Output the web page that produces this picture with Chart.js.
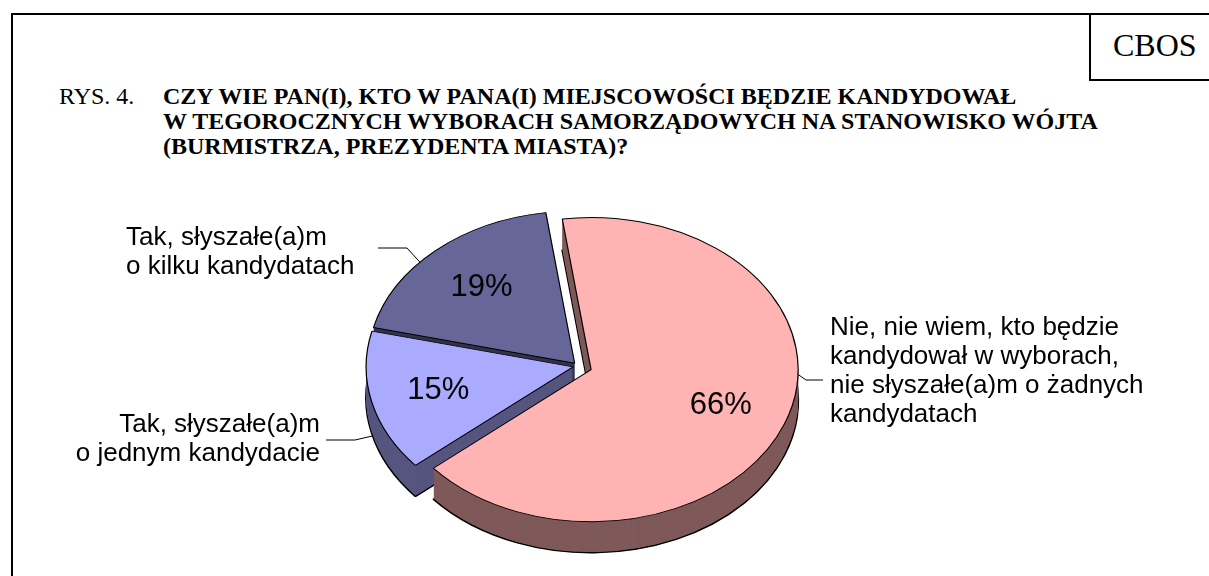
<!DOCTYPE html>
<html lang="pl">
<head>
<meta charset="utf-8">
<title>CBOS - Rys. 4</title>
<script src="https://cdn.jsdelivr.net/npm/chart.js@4.4.1/dist/chart.umd.min.js"></script>
<style>
    html, body { margin: 0; padding: 0; background: #fff; }
    #page { position: relative; width: 1209px; height: 576px; overflow: hidden; }
    #frame { position: absolute; left: 11px; top: 13px; width: 1400px; height: 800px;
             border-left: 2px solid #000; border-top: 2px solid #000; }
    #cbos { position: absolute; left: 1089px; top: 13px; width: 200px; height: 64px;
            border: 2px solid #000; border-right: none; }
    #cbos span { position: absolute; left: 22px; top: 14px; font: 32px/32px "Liberation Serif", "Times New Roman", serif; }
    .t { position: absolute; top: 84px; font-family: "Liberation Serif", "Times New Roman", serif;
         font-size: 24px; line-height: 25px; white-space: nowrap; color: #000; }
    #chart { position: absolute; left: 0; top: 0; }
</style>
</head>
<body>
<div id="page">
    <div id="frame"></div>
    <div id="cbos"><span>CBOS</span></div>
    <div class="t" style="left:59px">RYS. 4.</div>
    <div class="t" style="left:163px;font-weight:bold">CZY WIE PAN(I), KTO W PANA(I) MIEJSCOWOŚCI BĘDZIE KANDYDOWAŁ<br>W TEGOROCZNYCH WYBORACH SAMORZĄDOWYCH NA STANOWISKO WÓJTA<br>(BURMISTRZA, PREZYDENTA MIASTA)?</div>
    <canvas id="chart" width="1209" height="576"></canvas>
</div>
<script>
// dane z rysunku
const categories = [
    'Nie, nie wiem, kto będzie kandydował w wyborach, nie słyszałe(a)m o żadnych kandydatach',
    'Tak, słyszałe(a)m o jednym kandydacie',
    'Tak, słyszałe(a)m o kilku kandydatach'
];
const labelLines = [
    ['Nie, nie wiem, kto będzie', 'kandydował w wyborach,', 'nie słyszałe(a)m o żadnych', 'kandydatach'],
    ['Tak, słyszałe(a)m', 'o jednym kandydacie'],
    ['Tak, słyszałe(a)m', 'o kilku kandydatach']
];
const values = [66, 15, 19];

const topColors = ['#FFB3B3', '#AAAAFF', '#666699'];
const sideColors = ['#7F5959', '#55557F', '#33334C'];

// wygląd "3D"
const TILT = 0.735;
const DEPTH = 31;
const explode = [14, 5, 5];
const labelFont = '26px "Liberation Sans", Arial, sans-serif';
const pctFont = '31px "Liberation Sans", Arial, sans-serif';
// pozycje opisów i linii odniesienia
const outerLabels = [
    { x: 830, y: 335, align: 'left', frac: 0.42, drop: 0, line: [[823, 380], [806, 380]] },
    { x: 320, y: 432, align: 'right', frac: 0.48, drop: DEPTH, line: [[326, 440], [355, 440]] },
    { x: 126, y: 245, align: 'left', frac: 0.41, drop: 0, line: [[378, 248], [407, 248]] }
];

function arcPoint(arc, i, angle, r, cy) {
    const h = (arc.startAngle + arc.endAngle) / 2;
    const ux = Math.cos(h) * explode[i] + Math.cos(angle) * r;
    const uy = Math.sin(h) * explode[i] + Math.sin(angle) * r;
    return { x: arc.x + ux, y: cy + uy * TILT };
}

const pie3d = {
    id: 'pie3d',
    beforeDatasetsDraw(chart) {
        const ctx = chart.ctx;
        const arcs = chart.getDatasetMeta(0).data;
        const cy = arcs[0].y;

        function withArc(arc, i, dy, fn) {
            ctx.save();
            ctx.translate(0, cy + dy);
            ctx.scale(1, TILT);
            ctx.translate(0, -cy);
            const h = (arc.startAngle + arc.endAngle) / 2;
            ctx.translate(Math.cos(h) * explode[i], Math.sin(h) * explode[i]);
            fn();
            ctx.restore();
        }
        function paint(arc, fill, bw) {
            const o = arc.options;
            arc.options = Object.assign({}, o, { backgroundColor: fill, borderWidth: bw });
            arc.draw(ctx);
            arc.options = o;
        }

        // boki
        for (let d = DEPTH; d >= 1; d--) {
            arcs.forEach((a, i) => withArc(a, i, d, () => paint(a, sideColors[i], d === DEPTH ? 2 : 0)));
        }
        // wierzch
        arcs.forEach((a, i) => withArc(a, i, 0, () => a.draw(ctx)));
        return false;
    },
    afterDraw(chart) {
        const ctx = chart.ctx;
        const arcs = chart.getDatasetMeta(0).data;
        const cy = arcs[0].y;
        const data = chart.data.datasets[0].data;

        ctx.save();
        ctx.fillStyle = '#000';
        ctx.font = pctFont;
        ctx.textAlign = 'center';
        ctx.textBaseline = 'middle';
        arcs.forEach((a, i) => {
            const h = (a.startAngle + a.endAngle) / 2;
            const p = arcPoint(a, i, h, a.outerRadius * 0.67, cy);
            ctx.fillText(data[i] + '%', p.x, p.y);
        });

        ctx.font = labelFont;
        ctx.textBaseline = 'alphabetic';
        ctx.strokeStyle = '#000';
        ctx.lineWidth = 1;
        outerLabels.forEach((l, i) => {
            ctx.textAlign = l.align;
            labelLines[i].forEach((s, k) => ctx.fillText(s, l.x, l.y + k * 29));
            const a = arcs[i];
            const ang = a.startAngle + l.frac * (a.endAngle - a.startAngle);
            const p = arcPoint(a, i, ang, a.outerRadius, cy);
            ctx.beginPath();
            ctx.moveTo(l.line[0][0], l.line[0][1]);
            ctx.lineTo(l.line[1][0], l.line[1][1]);
            ctx.lineTo(p.x, p.y + l.drop);
            ctx.stroke();
        });
        ctx.restore();
    }
};

new Chart(document.getElementById('chart').getContext('2d'), {
    type: 'pie',
    data: {
        labels: categories,
        datasets: [{
            data: values,
            backgroundColor: topColors,
            borderColor: '#000',
            borderWidth: 1.2
        }]
    },
    options: {
        responsive: false,
        animation: false,
        rotation: -8,
        radius: 207,
        layout: { padding: { left: 150, right: 203, top: 160, bottom: 4 } },
        plugins: {
            legend: { display: false },
            tooltip: { enabled: false }
        }
    },
    plugins: [pie3d]
});
</script>
</body>
</html>
